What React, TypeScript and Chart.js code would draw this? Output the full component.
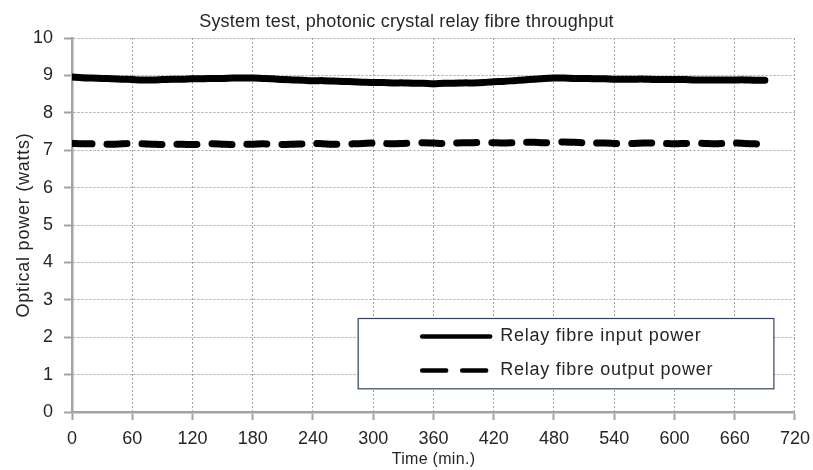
import React, { useEffect, useRef } from "react";
import { Chart, registerables } from "chart.js";

Chart.register(...registerables);

const times = [
  0, 10, 20, 30, 40, 50, 60, 70, 80, 90, 100, 110, 120, 130, 140, 150, 160, 170, 180, 190,
  200, 210, 220, 230, 240, 250, 260, 270, 280, 290, 300, 310, 320, 330, 340, 350, 360, 370,
  380, 390, 400, 410, 420, 430, 440, 450, 460, 470, 480, 490, 500, 510, 520, 530, 540, 550,
  560, 570, 580, 590, 600, 610, 620, 630, 640, 650, 660, 670, 680, 690,
];

const inputPower = [
  8.96, 8.94, 8.93, 8.92, 8.91, 8.9, 8.89, 8.88, 8.88, 8.89, 8.9, 8.9, 8.91, 8.91, 8.92, 8.92,
  8.93, 8.93, 8.93, 8.92, 8.91, 8.89, 8.88, 8.87, 8.86, 8.86, 8.85, 8.84, 8.83, 8.82, 8.81,
  8.81, 8.8, 8.8, 8.79, 8.79, 8.78, 8.79, 8.79, 8.8, 8.8, 8.81, 8.83, 8.84, 8.86, 8.88, 8.9,
  8.92, 8.93, 8.93, 8.92, 8.92, 8.91, 8.91, 8.9, 8.9, 8.9, 8.9, 8.89, 8.89, 8.89, 8.89, 8.88,
  8.88, 8.88, 8.88, 8.88, 8.88, 8.87, 8.87,
];

const outputPower = [
  7.18, 7.17, 7.17, 7.16, 7.16, 7.17, 7.18, 7.17, 7.16, 7.15, 7.16, 7.16, 7.15, 7.16, 7.17,
  7.16, 7.15, 7.16, 7.16, 7.17, 7.16, 7.15, 7.16, 7.17, 7.18, 7.17, 7.16, 7.16, 7.17, 7.18,
  7.19, 7.18, 7.17, 7.18, 7.19, 7.2, 7.19, 7.18, 7.19, 7.2, 7.2, 7.21, 7.2, 7.19, 7.2, 7.21,
  7.21, 7.2, 7.21, 7.22, 7.21, 7.2, 7.19, 7.19, 7.18, 7.17, 7.18, 7.19, 7.19, 7.18, 7.17,
  7.18, 7.19, 7.18, 7.17, 7.18, 7.19, 7.18, 7.17, 7.16,
];

const seriesLabels = ["Relay fibre input power", "Relay fibre output power"];
const titleText = "System test, photonic crystal relay fibre throughput";
const xAxisTitle = "Time (min.)";
const yAxisTitle = "Optical power (watts)";

const FONT = "'Liberation Sans', Arial, Helvetica, sans-serif";
const GRID = "#a3a3a3";
const TEXT = "#262626";

const textLayer = {
  id: "textLayer",
  afterDraw(chart: any) {
    const { ctx, chartArea } = chart;
    const xs = chart.scales.x;
    const ys = chart.scales.y;
    ctx.save();
    ctx.fillStyle = TEXT;
    ctx.textAlign = "center";
    ctx.textBaseline = "alphabetic";

    // chart title
    ctx.font = `18px ${FONT}`;
    (ctx as any).letterSpacing = "0.2px";
    ctx.fillText(titleText, chart.width / 2, 27);

    // x axis title
    ctx.font = `16px ${FONT}`;
    (ctx as any).letterSpacing = "0.3px";
    ctx.textBaseline = "middle";
    ctx.fillText(xAxisTitle, (chartArea.left + chartArea.right) / 2, 460);

    // y axis title
    ctx.font = `18px ${FONT}`;
    (ctx as any).letterSpacing = "0.75px";
    ctx.save();
    ctx.translate(24, (chartArea.top + chartArea.bottom) / 2);
    ctx.rotate(-Math.PI / 2);
    ctx.fillText(yAxisTitle, 0, 0);
    ctx.restore();

    // legend box inside plot area
    const left = xs.getPixelForValue(285);
    const right = xs.getPixelForValue(699);
    const top = ys.getPixelForValue(2.5);
    const bottom = ys.getPixelForValue(0.62);
    ctx.fillStyle = "#ffffff";
    ctx.fillRect(left, top, right - left, bottom - top);
    ctx.strokeStyle = "#33425e";
    ctx.lineWidth = 1.2;
    ctx.setLineDash([]);
    ctx.strokeRect(left, top, right - left, bottom - top);
    const rows = [top + 18, top + 52];
    chart.data.datasets.forEach((ds: any, i: number) => {
      const y = rows[i];
      ctx.beginPath();
      ctx.strokeStyle = "#000";
      ctx.lineWidth = 4.5;
      ctx.lineCap = "round";
      ctx.setLineDash(i === 0 ? [] : [24, 16]);
      ctx.moveTo(left + 64, y);
      ctx.lineTo(left + 132, y);
      ctx.stroke();
      ctx.setLineDash([]);
      ctx.fillStyle = TEXT;
      ctx.font = `18px ${FONT}`;
      ctx.textBaseline = "middle";
      ctx.textAlign = "left";
      ctx.fillText(ds.label, left + 142, y);
    });
    ctx.restore();
  },
};

export default function App() {
  const ref = useRef<HTMLCanvasElement | null>(null);
  useEffect(() => {
    document.body.style.margin = "0";
    const canvas = ref.current;
    if (!canvas) return;
    const chart = new Chart(canvas, {
      type: "line",
      data: {
        datasets: [
          {
            label: seriesLabels[0],
            data: times.map((t, i) => ({ x: t, y: inputPower[i] })),
            borderColor: "#000",
            borderWidth: 7,
            borderCapStyle: "round",
            pointRadius: 0,
            tension: 0.3,
          },
          {
            label: seriesLabels[1],
            data: times.map((t, i) => ({ x: t, y: outputPower[i] })),
            borderColor: "#000",
            borderWidth: 7,
            borderCapStyle: "round",
            borderDash: [20, 15],
            pointRadius: 0,
            tension: 0.3,
          },
        ],
      },
      options: {
        animation: false,
        responsive: false,
        layout: { padding: { top: 38, right: 18, left: 0, bottom: 0 } },
        plugins: {
          legend: { display: false },
          tooltip: { enabled: false },
          title: { display: false },
        },
        scales: {
          x: {
            type: "linear",
            min: 0,
            max: 720,
            afterFit: (s: any) => {
              s.height = 58;
            },
            ticks: {
              stepSize: 60,
              color: TEXT,
              font: { family: FONT, size: 18, lineHeight: 1.75 },
              padding: 3,
              maxRotation: 0,
              autoSkip: false,
            },
            grid: {
              color: GRID,
              lineWidth: 1,
              tickLength: 8,
              tickColor: GRID,
              tickWidth: 2,
              tickBorderDash: [],
            },
            border: { display: true, color: GRID, width: 2.5, dash: [2, 2] },
          },
          y: {
            min: 0,
            max: 10,
            afterFit: (s: any) => {
              s.width = 72;
            },
            ticks: {
              stepSize: 1,
              color: TEXT,
              font: { family: FONT, size: 18 },
              padding: 11,
            },
            grid: {
              color: GRID,
              lineWidth: 1,
              tickLength: 8,
              tickColor: GRID,
              tickWidth: 2,
              tickBorderDash: [],
            },
            border: { display: true, color: GRID, width: 2.5, dash: [2, 2] },
          },
        },
      },
      plugins: [textLayer],
    } as any);
    return () => chart.destroy();
  }, []);
  return (
    <div style={{ width: 813, height: 470 }}>
      <canvas ref={ref} width={813} height={470} style={{ display: "block" }} />
    </div>
  );
}
